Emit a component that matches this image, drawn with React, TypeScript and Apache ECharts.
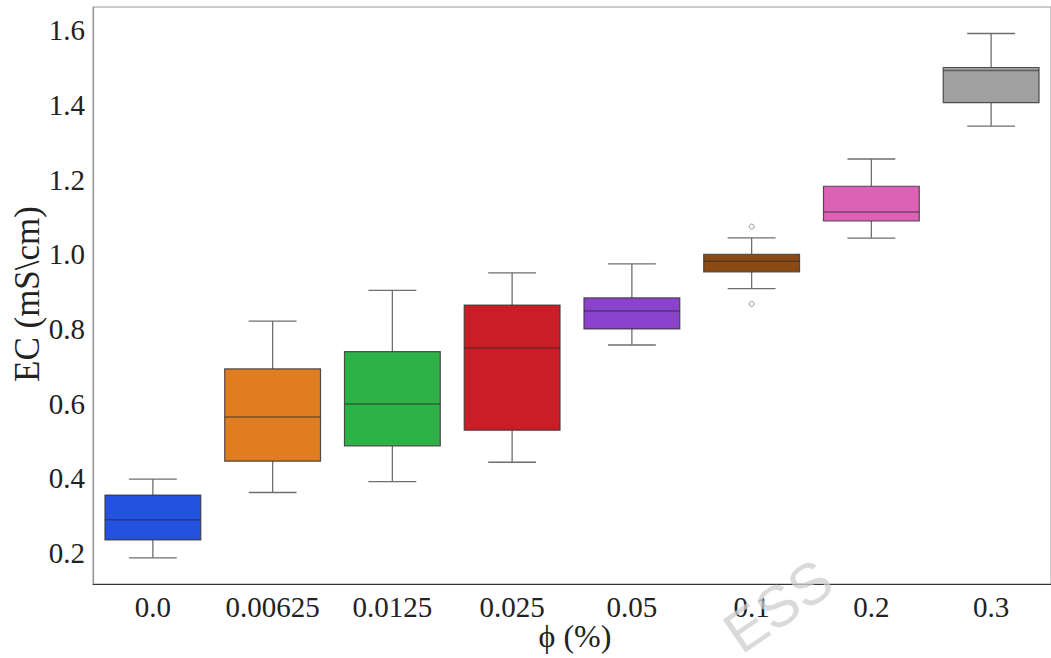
import React, { useEffect, useRef } from "react";
import * as echarts from "echarts";

// Volume fraction groups (x axis) and their electrical-conductivity box statistics
const categories = ["0.0", "0.00625", "0.0125", "0.025", "0.05", "0.1", "0.2", "0.3"];
const lowerWhisker = [0.187, 0.362, 0.391, 0.443, 0.757, 0.908, 1.043, 1.343];
const q1 = [0.235, 0.446, 0.487, 0.529, 0.800, 0.953, 1.089, 1.406];
const median = [0.289, 0.564, 0.599, 0.749, 0.848, 0.981, 1.113, 1.492];
const q3 = [0.355, 0.693, 0.739, 0.864, 0.883, 1.000, 1.182, 1.500];
const upperWhisker = [0.398, 0.821, 0.903, 0.950, 0.974, 1.044, 1.255, 1.591];
const outliers: [number, number][] = [
  [5, 1.074],
  [5, 0.867],
];
const boxColors = ["#2351e0", "#e07d20", "#2eb248", "#cb1d26", "#8a43cc", "#8b4a14", "#dd62b6", "#a0a0a0"];

const SERIF = "'Liberation Serif', 'Times New Roman', serif";

export default function App() {
  const ref = useRef<HTMLDivElement>(null);

  useEffect(() => {
    if (!ref.current) return;
    const chart = echarts.init(ref.current, null, { renderer: "svg" });

    const boxData = categories.map((_, i) => [
      i,
      lowerWhisker[i],
      q1[i],
      median[i],
      q3[i],
      upperWhisker[i],
    ]);

    const renderBox = (params: any, api: any) => {
      const idx = api.value(0);
      const band = api.size([1, 0])[0];
      const boxW = band * 0.8;
      const capW = band * 0.4;
      const lo = api.coord([idx, api.value(1)]);
      const b1 = api.coord([idx, api.value(2)]);
      const md = api.coord([idx, api.value(3)]);
      const b3 = api.coord([idx, api.value(4)]);
      const hi = api.coord([idx, api.value(5)]);
      const cx = lo[0];
      const whiskerStyle = { stroke: "#6e6e6e", lineWidth: 1.3 };
      return {
        type: "group",
        children: [
          { type: "line", shape: { x1: cx, y1: b3[1], x2: cx, y2: hi[1] }, style: whiskerStyle },
          { type: "line", shape: { x1: cx, y1: b1[1], x2: cx, y2: lo[1] }, style: whiskerStyle },
          { type: "line", shape: { x1: cx - capW / 2, y1: hi[1], x2: cx + capW / 2, y2: hi[1] }, style: whiskerStyle },
          { type: "line", shape: { x1: cx - capW / 2, y1: lo[1], x2: cx + capW / 2, y2: lo[1] }, style: whiskerStyle },
          {
            type: "rect",
            shape: { x: cx - boxW / 2, y: b3[1], width: boxW, height: b1[1] - b3[1] },
            style: { fill: boxColors[idx], stroke: "rgba(55,55,55,0.85)", lineWidth: 1.2 },
          },
          {
            type: "line",
            shape: { x1: cx - boxW / 2, y1: md[1], x2: cx + boxW / 2, y2: md[1] },
            style: { stroke: "rgba(40,40,40,0.55)", lineWidth: 1.5 },
          },
        ],
      };
    };

    chart.setOption({
      animation: false,
      backgroundColor: "#ffffff",
      grid: {
        left: 93,
        right: -8,
        top: 7,
        bottom: 74,
        show: true,
        borderColor: "#9a9a9a",
        borderWidth: 1,
        backgroundColor: "transparent",
      },
      xAxis: {
        type: "category",
        data: categories,
        boundaryGap: true,
        axisLine: { show: true, lineStyle: { color: "#333333", width: 1.2 } },
        axisTick: { show: false },
        axisLabel: { color: "#222222", fontFamily: SERIF, fontSize: 29, margin: 8, interval: 0 },
        splitLine: { show: false },
      },
      yAxis: {
        type: "value",
        min: 0.117,
        max: 1.662,
        splitNumber: 8,
        axisLine: { show: true, lineStyle: { color: "#9a9a9a", width: 1.2 } },
        axisTick: { show: false },
        splitLine: { show: false },
        axisLabel: {
          color: "#222222",
          fontFamily: SERIF,
          fontSize: 29,
          margin: 8,
          showMinLabel: false,
          showMaxLabel: false,
          formatter: (v: number) =>
            Math.abs(v / 0.2 - Math.round(v / 0.2)) < 1e-6 ? v.toFixed(1) : "",
        },
      },
      series: [
        {
          type: "custom",
          renderItem: renderBox,
          data: boxData,
          encode: { x: 0, y: [1, 2, 3, 4, 5] },
          clip: false,
          z: 2,
        },
        {
          type: "scatter",
          data: outliers,
          symbol: "circle",
          symbolSize: 5,
          itemStyle: { color: "#ffffff", borderColor: "#777777", borderWidth: 1 },
          z: 3,
        },
      ],
      graphic: [
        {
          type: "text",
          x: 27,
          y: 294,
          rotation: Math.PI / 2,
          style: {
            text: "EC (mS\\cm)",
            fontFamily: SERIF,
            fontSize: 35,
            fill: "#222222",
            textAlign: "center",
            textVerticalAlign: "middle",
          },
        },
        {
          type: "text",
          x: 575,
          y: 636,
          style: {
            text: "ϕ (%)",
            fontFamily: SERIF,
            fontSize: 32,
            fill: "#222222",
            textAlign: "center",
            textVerticalAlign: "middle",
          },
        },
        {
          type: "text",
          x: 778,
          y: 606,
          rotation: 0.6,
          z: 100,
          style: {
            text: "ESS",
            fontFamily: "'Liberation Sans', Arial, sans-serif",
            fontSize: 58,
            fill: "rgba(205,205,205,0.75)",
            textAlign: "center",
            textVerticalAlign: "middle",
          },
        },
      ],
    });

    return () => chart.dispose();
  }, []);

  return (
    <div
      ref={ref}
      style={{ position: "fixed", left: 0, top: 0, width: 1051, height: 658 }}
    />
  );
}
